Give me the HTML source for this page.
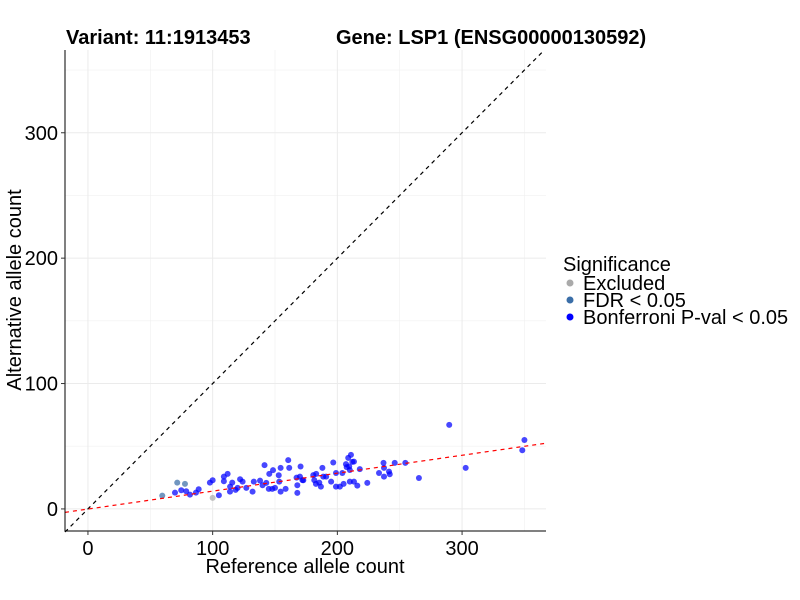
<!DOCTYPE html>
<html><head><meta charset="utf-8"><style>
body{margin:0;background:#fff;position:relative}
svg{display:block;font-family:"Liberation Sans",Arial,sans-serif;}
</style></head><body>
<svg id="chart" width="800" height="600"></svg>
<script>
const xTickValues=[0,100,200,300];
const yTickValues=[0,100,200,300];
const excludedX=[100];
const excludedY=[8.8];
const fdrX=[59.6,71.6,77.8];
const fdrY=[10.6,21,20];
const bonfX=[69.8,74.8,78.8,81.8,86.6,88.8,97.8,100,105,109,112,109,115.7,114,113.9,118.4,120,122,124,127,132,133,138,141.6,140,143,145.4,148.4,145,147.8,150,153.4,153,154.5,154.5,158.5,160.6,161.4,167.9,167.9,167.3,170,170.5,172.7,172,180.7,183,181.5,182.8,185.5,186.8,188,188.7,191,195,196.7,198.9,198.9,202,204,205,206.9,207.5,208.7,210.9,210,209.5,212,213.3,210,213.3,216,218,224,233.4,237,237.4,237.4,241.4,242,246,254.5,265.4,289.7,302.9,348.3,350];
const bonfY=[13,14.9,14.1,11.4,13,15.7,21,22.9,10.9,25.8,28,22.1,21,17.8,13.8,15.2,16.8,23.7,21.8,16.8,13.8,21.8,22.6,34.9,18.9,20.8,28,30.9,16,16,16.8,21.8,26.9,32.7,13.8,16,38.9,32.7,18.9,12.8,25,25.8,33.8,22.9,23,27,28,23,20,21,17.8,32.7,25.8,25.8,21.8,37,28.7,17.8,17.8,28.7,20,35.7,33.3,40.7,43.1,31,33.8,37.5,37.7,21.8,21.8,18.6,31.7,20.8,28.7,36.7,32.7,25.8,29.8,27.7,36.7,36.7,24.7,67,32.7,46.8,55];
const fitSlope=0.143;
const fitIntercept=-0.1;

const L=65,R=546,T=50,B=531;
const xMin=-18.4,xMax=367.3,yMin=-17.6,yMax=366;
const sx=v=>L+(v-xMin)/(xMax-xMin)*(R-L);
const sy=v=>B-(v-yMin)/(yMax-yMin)*(B-T);
const svg=document.getElementById('chart');
const NS='http://www.w3.org/2000/svg';
function mk(tag,attrs,parent){const e=document.createElementNS(NS,tag);for(const k in attrs)e.setAttribute(k,attrs[k]);(parent||svg).appendChild(e);return e;}

const grid=mk('g',{});


[50,150,250,350].forEach(v=>{mk('line',{x1:sx(v),x2:sx(v),y1:T,y2:B,stroke:'#f0f0f0','stroke-width':0.6},grid);mk('line',{x1:L,x2:R,y1:sy(v),y2:sy(v),stroke:'#f0f0f0','stroke-width':0.6},grid);});
xTickValues.forEach(v=>mk('line',{x1:sx(v),x2:sx(v),y1:T,y2:B,stroke:'#ebebeb','stroke-width':1},grid));
yTickValues.forEach(v=>mk('line',{x1:L,x2:R,y1:sy(v),y2:sy(v),stroke:'#ebebeb','stroke-width':1},grid));

const d=mk('line',{x1:sx(xMin),y1:sy(xMin),x2:sx(yMax),y2:sy(yMax),stroke:'#000','stroke-width':1.2,'stroke-dasharray':'4,4'});



function pts(xs,ys,color,name){
  const g=mk('g',{});
  
  
  xs.forEach((x,i)=>{const c=mk('circle',{cx:sx(x),cy:sy(ys[i]),r:3,fill:color,'fill-opacity':0.72},g);
    
    });
}
pts(excludedX,excludedY,'#aaaaaa','excluded-points');
pts(fdrX,fdrY,'#3a6ea8','fdr-points');
pts(bonfX,bonfY,'#0000ff','bonferroni-points');

const f=mk('line',{x1:L,y1:sy(fitIntercept+fitSlope*xMin),x2:R,y2:sy(fitIntercept+fitSlope*xMax),stroke:'#ff0000','stroke-width':1.2,'stroke-dasharray':'4,4'});



const ax=mk('path',{d:`M${L},${T} V${B} H${R}`,fill:'none',stroke:'#000','stroke-width':1});


xTickValues.forEach(v=>{mk('line',{x1:sx(v),x2:sx(v),y1:B,y2:B+4,stroke:'#333'});
  const t=mk('text',{x:sx(v),y:B+24,'text-anchor':'middle','font-size':20,fill:'#000'});t.textContent=v;
  });
yTickValues.forEach(v=>{mk('line',{x1:L-4,x2:L,y1:sy(v),y2:sy(v),stroke:'#333'});
  const t=mk('text',{x:L-7,y:sy(v)+7,'text-anchor':'end','font-size':20,fill:'#000'});t.textContent=v;
  });
</script>
<svg style="position:absolute;left:0;top:0" width="800" height="600">
<text x="66" y="44" font-size="20" font-weight="bold">Variant: 11:1913453</text>
<text x="336" y="44" font-size="20" font-weight="bold">Gene: LSP1 (ENSG00000130592)</text>
<text x="305" y="573" font-size="20" text-anchor="middle">Reference allele count</text>
<text transform="translate(21,290) rotate(-90)" font-size="20" text-anchor="middle">Alternative allele count</text>
<g font-size="20">
<text x="563" y="271">Significance</text>
<circle cx="570" cy="283" r="3.5" fill="#aaaaaa"/><text x="583" y="290">Excluded</text>
<circle cx="570" cy="300" r="3.5" fill="#3a6ea8"/><text x="583" y="307">FDR &lt; 0.05</text>
<circle cx="570" cy="317" r="3.5" fill="#0000ff"/><text x="583" y="324">Bonferroni P-val &lt; 0.05</text>
</g>
</svg>
</body></html>
